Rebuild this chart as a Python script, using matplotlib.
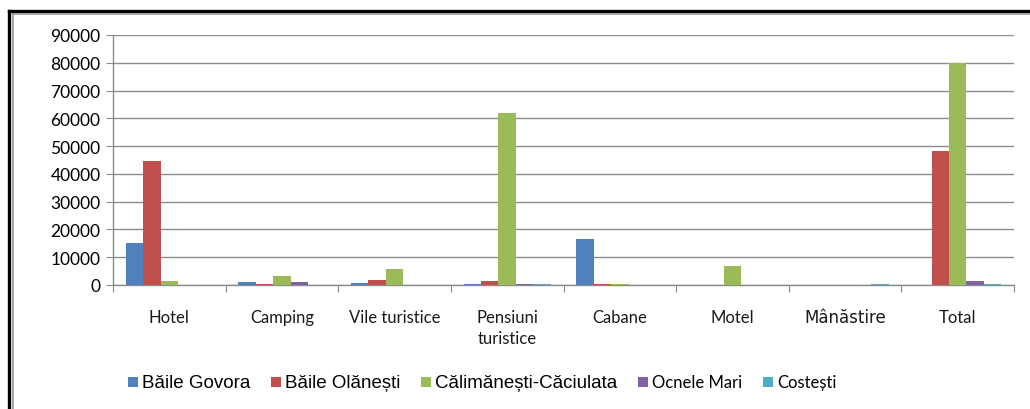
import numpy as np
import matplotlib
matplotlib.use("Agg")
import matplotlib.pyplot as plt
from matplotlib.lines import Line2D

# categorii de cazare si numarul de turisti pe statiuni
categorii = ["Hotel", "Camping", "Vile turistice", "Pensiuni\nturistice",
             "Cabane", "Motel", "Mânăstire", "Total"]
statiuni = ["Băile Govora", "Băile Olănești", "Călimănești-Căciulata",
            "Ocnele Mari", "Costești"]

govora = [15200, 1100, 700, 400, 16500, 0, 0, 0]
olanesti = [44700, 500, 1700, 1400, 400, 0, 0, 48400]
calimanesti = [1400, 3100, 5800, 62000, 400, 6800, 0, 80000]
ocnele = [0, 1100, 0, 400, 0, 0, 0, 1300]
costesti = [0, 0, 0, 400, 0, 0, 400, 400]

serii = [govora, olanesti, calimanesti, ocnele, costesti]
culori = ["#4F81BD", "#C0504D", "#9BBB59", "#8064A2", "#4BACC6"]
yticks = np.arange(0, 90001, 10000)

fig = plt.figure(figsize=(10.3, 4.1), dpi=100)
ax = fig.add_axes([113 / 1030, 124 / 410, 901 / 1030, 250 / 410])

x = np.arange(len(categorii))
w = 0.155
for i, (serie, c, nume) in enumerate(zip(serii, culori, statiuni)):
    ax.bar(x + (i - 2) * w, serie, w, color=c, linewidth=0,
           label=nume, zorder=3)

ax.set_xlim(-0.5, len(categorii) - 0.5)
ax.set_ylim(0, 90000)
ax.set_yticks(yticks)
ax.set_yticklabels([str(v) for v in yticks], fontfamily="Lato", fontsize=12.5)
ax.yaxis.grid(True, color="#8C8C8C", linewidth=1.0, zorder=0)

# etichete categorii centrate, taieturi intre grupuri
ax.set_xticks(np.arange(len(categorii) + 1) - 0.5)
ax.set_xticklabels([])
ax.tick_params(axis="x", length=5, color="#8C8C8C", direction="out")
ax.tick_params(axis="y", length=5, color="#8C8C8C", direction="out", pad=4)
for i, cat in enumerate(categorii):
    if cat == "Mânăstire":
        ax.text(i, -8300, cat, ha="center", va="top", fontsize=12,
                fontfamily="DejaVu Sans", color="#1a1a1a")
    else:
        ax.text(i, -8500, cat, ha="center", va="top", fontsize=12,
                fontfamily="Lato", color="#1a1a1a", linespacing=1.45)

for s in ["top", "right"]:
    ax.spines[s].set_visible(False)
for s in ["left", "bottom"]:
    ax.spines[s].set_color("#8C8C8C")
    ax.spines[s].set_linewidth(1.0)

leg = fig.legend(loc="center", bbox_to_anchor=(0.468, 0.065), ncol=5,
                 frameon=False, handlelength=0.7, handleheight=0.7,
                 handletextpad=0.3, columnspacing=1.5, borderaxespad=0)
marimi = [13.5, 13.5, 13.5, 12, 12]
familii = ["Liberation Sans", "Liberation Sans", "Liberation Sans", "Lato", "Lato"]
for t, m, f in zip(leg.get_texts(), marimi, familii):
    t.set_fontsize(m)
    t.set_fontfamily(f)

# chenarul din stanga si de sus
fig.add_artist(Line2D([9 / 1030, 9 / 1030], [0, 1 - 12 / 410], color="black", lw=2.4))
fig.add_artist(Line2D([12.5 / 1030, 12.5 / 1030], [0, 1 - 15 / 410], color="#999999", lw=1.2))
fig.add_artist(Line2D([9 / 1030, 1], [1 - 12 / 410, 1 - 12 / 410], color="black", lw=2.4))
fig.add_artist(Line2D([12.5 / 1030, 1], [1 - 15 / 410, 1 - 15 / 410], color="#999999", lw=1.2))

fig.savefig("out.png", dpi=100)
